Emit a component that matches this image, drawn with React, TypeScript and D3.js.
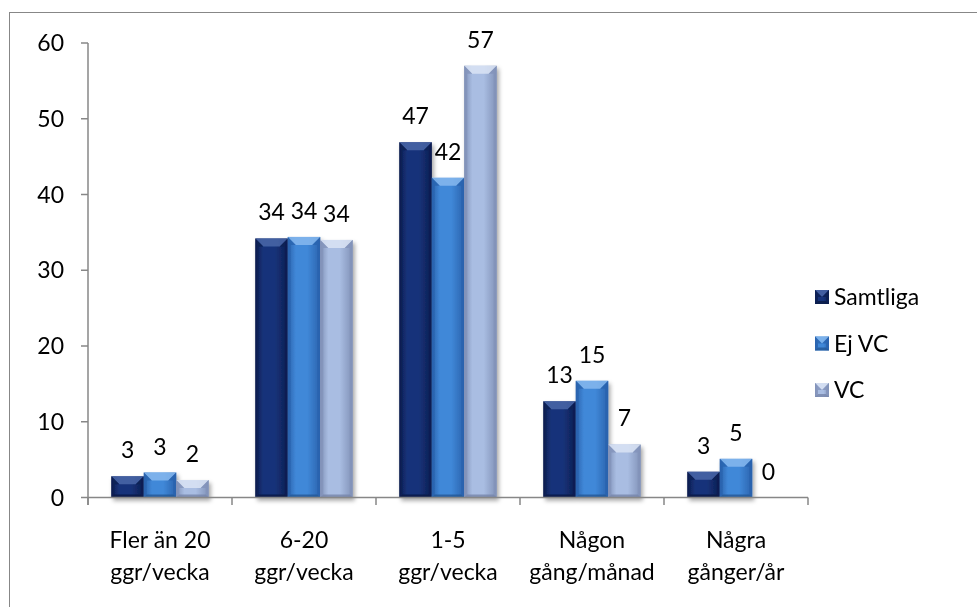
import React from "react";
import * as d3 from "d3";

// Frequency categories (two-line labels) and series values, in percent
const categories: string[][] = [
  ["Fler än 20", "ggr/vecka"],
  ["6-20", "ggr/vecka"],
  ["1-5", "ggr/vecka"],
  ["Någon", "gång/månad"],
  ["Några", "gånger/år"],
];
const seriesNames = ["Samtliga", "Ej VC", "VC"];
const samtliga = [2.8, 34.2, 46.9, 12.7, 3.4];
const ejVC = [3.3, 34.4, 42.2, 15.4, 5.1];
const vc = [2.3, 34.0, 57.0, 7.0, 0];
const yTicks = [0, 10, 20, 30, 40, 50, 60];

const seriesValues = [samtliga, ejVC, vc];

// per-series shading: edge, body, top highlight
const palette = [
  { edge: "#0c1f52", body: "#17337a", light: "#4a66a8", bottom: "#0a1a45" },
  { edge: "#2a63ae", body: "#4088d8", light: "#86b8ee", bottom: "#235796" },
  { edge: "#8192b8", body: "#a9bde2", light: "#dbe4f4", bottom: "#7585aa" },
];

const W = 977;
const H = 607;
const FONT = "Lato, 'Open Sans', sans-serif";
const FS = 23;

const x0 = d3.scaleBand<number>().domain(d3.range(categories.length)).range([88, 808]).paddingInner(0).paddingOuter(0);
const x1 = d3.scaleBand<number>().domain(d3.range(seriesNames.length)).range([0, x0.bandwidth() * 0.676]);
const groupOffset = (x0.bandwidth() - x1.range()[1]) / 2;
const y = d3.scaleLinear().domain([0, 60]).range([497.5, 43]);

function BevelBar({ x, yTop, w, h, s }: { x: number; yTop: number; w: number; h: number; s: number }) {
  if (h <= 0) return null;
  const c = palette[s];
  const bt = Math.min(8, h / 2, w / 2);
  const bs = Math.min(3, w / 2);
  const bb = Math.min(3, h / 2);
  const yB = yTop + h;
  return (
    <g>
      <rect x={x} y={yTop} width={w} height={h} fill={`url(#body${s})`} />
      <polygon
        points={`${x},${yTop} ${x + w},${yTop} ${x + w - bt},${yTop + bt} ${x + bt},${yTop + bt}`}
        fill={c.light}
        opacity={0.85}
      />
      <polygon
        points={`${x},${yTop} ${x + bt},${yTop + bt} ${x + bs},${yTop + bt} ${x + bs},${yB - bb} ${x},${yB}`}
        fill={c.edge}
        opacity={0.75}
      />
      <polygon
        points={`${x + w},${yTop} ${x + w - bt},${yTop + bt} ${x + w - bs},${yTop + bt} ${x + w - bs},${yB - bb} ${x + w},${yB}`}
        fill={c.edge}
        opacity={0.75}
      />
      <polygon
        points={`${x},${yB} ${x + bs},${yB - bb} ${x + w - bs},${yB - bb} ${x + w},${yB}`}
        fill={c.bottom}
        opacity={0.8}
      />
    </g>
  );
}

export default function App() {
  return (
    <svg
      width={W}
      height={H}
      style={{ position: "absolute", left: 0, top: 0, background: "#fff" }}
      fontFamily={FONT}
    >
      <defs>
        {palette.map((c, i) => (
          <linearGradient key={i} id={`body${i}`} x1="0" x2="1" y1="0" y2="0">
            <stop offset="0" stopColor={c.edge} />
            <stop offset="0.25" stopColor={c.body} />
            <stop offset="0.6" stopColor={c.body} />
            <stop offset="1" stopColor={c.edge} />
          </linearGradient>
        ))}
        <filter id="shadow" x="-20%" y="-20%" width="140%" height="140%">
          <feDropShadow dx="2" dy="3" stdDeviation="2" floodColor="#000" floodOpacity="0.35" />
        </filter>
      </defs>

      <rect x={9.5} y={12.5} width={1200} height={1200} fill="none" stroke="#878787" strokeWidth={1} />

      {/* bars */}
      <g filter="url(#shadow)">
        {categories.map((_, ci) =>
          seriesValues.map((vals, si) => {
            const v = vals[ci];
            const bx = (x0(ci) as number) + groupOffset + (x1(si) as number);
            return (
              <BevelBar key={`${ci}-${si}`} x={bx} yTop={y(v)} w={x1.bandwidth()} h={y(0) - y(v)} s={si} />
            );
          })
        )}
      </g>

      {/* value labels */}
      {categories.map((_, ci) =>
        seriesValues.map((vals, si) => {
          const v = vals[ci];
          const cx = (x0(ci) as number) + groupOffset + (x1(si) as number) + x1.bandwidth() / 2;
          return (
            <text key={`l${ci}-${si}`} x={cx} y={y(v) - 18} textAnchor="middle" fontSize={FS} fill="#000">
              {d3.format(".0f")(v)}
            </text>
          );
        })
      )}

      {/* y axis */}
      <line x1={88} x2={88} y1={y(60)} y2={505} stroke="#878787" strokeWidth={1.5} />
      {yTicks.map((t) => (
        <g key={t}>
          <line x1={81} x2={88} y1={y(t)} y2={y(t)} stroke="#878787" strokeWidth={1.5} />
          <text x={64} y={y(t)} dy="0.35em" textAnchor="end" fontSize={FS} fill="#000">
            {t}
          </text>
        </g>
      ))}

      {/* x axis */}
      <line x1={88} x2={808} y1={y(0)} y2={y(0)} stroke="#878787" strokeWidth={1.5} />
      {d3.range(categories.length + 1).map((i) => {
        const tx = 88 + i * x0.bandwidth();
        return <line key={i} x1={tx} x2={tx} y1={y(0)} y2={505} stroke="#878787" strokeWidth={1.5} />;
      })}
      {categories.map((lines, ci) => {
        const cx = (x0(ci) as number) + x0.bandwidth() / 2;
        return (
          <text key={ci} x={cx} textAnchor="middle" fontSize={FS} fill="#000">
            <tspan x={cx} y={548}>{lines[0]}</tspan>
            <tspan x={cx} y={580}>{lines[1]}</tspan>
          </text>
        );
      })}

      {/* legend */}
      {seriesNames.map((name, si) => {
        const cy = 297 + si * 46.5;
        return (
          <g key={name}>
            <BevelBar x={815} yTop={cy - 7} w={14} h={14} s={si} />
            <text x={834} y={cy} dy="0.36em" fontSize={FS} fill="#000">
              {name}
            </text>
          </g>
        );
      })}
    </svg>
  );
}
